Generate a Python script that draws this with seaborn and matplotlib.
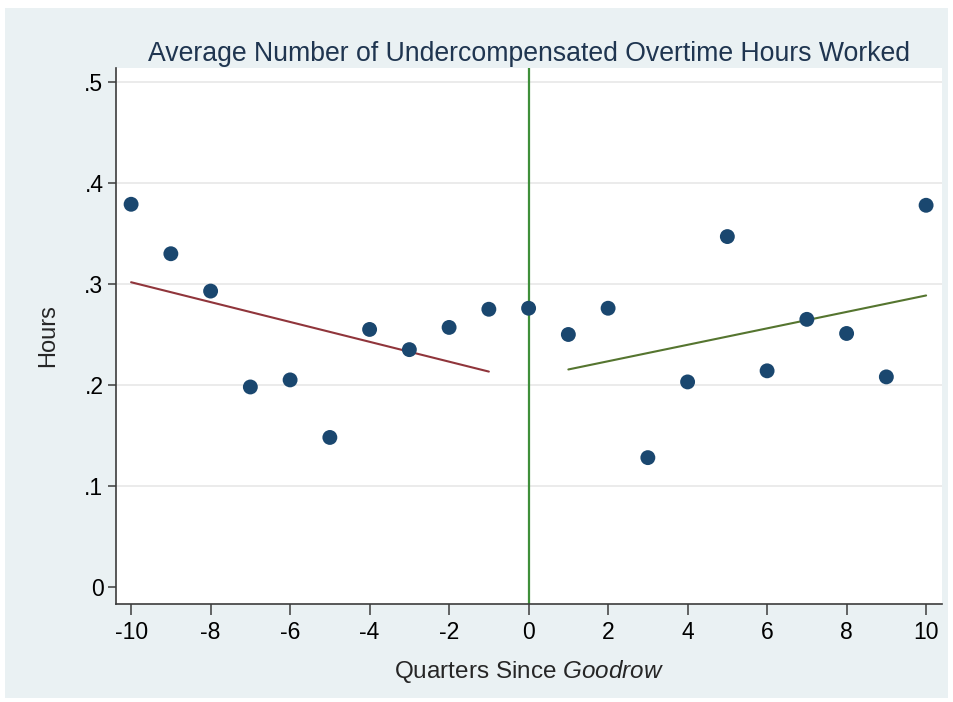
import numpy as np
import pandas as pd
import matplotlib
matplotlib.use("Agg")
import matplotlib.pyplot as plt
from matplotlib.patches import Rectangle
import seaborn as sns

# ── Data ──────────────────────────────────────────────────
quarters = list(range(-10, 11))
hours = [0.379, 0.330, 0.293, 0.198, 0.205, 0.148, 0.255, 0.235, 0.257, 0.275,
         0.276,
         0.250, 0.276, 0.128, 0.203, 0.347, 0.214, 0.265, 0.251, 0.208, 0.378]
y_ticks = [0, 0.1, 0.2, 0.3, 0.4, 0.5]
y_tick_labels = ["0", ".1", ".2", ".3", ".4", ".5"]
x_ticks = list(range(-10, 11, 2))

df = pd.DataFrame({"quarter": quarters, "hours": hours})
pre = df[df.quarter < 0]
post = df[df.quarter > 0]

# ── Style ─────────────────────────────────────────────────
sns.set_style("white")
plt.rcParams["font.family"] = ["Liberation Sans", "DejaVu Sans"]
plt.rcParams["mathtext.fontset"] = "custom"
plt.rcParams["mathtext.rm"] = "Liberation Sans"
plt.rcParams["mathtext.it"] = "Liberation Sans:italic"

navy = "#1A476F"
maroon = "#90353B"
forest = "#55752F"
vline_green = "#3F8F3A"
panel = "#EAF1F3"
axis_col = "#3C3C3C"

fig = plt.figure(figsize=(9.54, 7.02), dpi=100, facecolor="white")
bg = Rectangle((5 / 954, 4 / 702), 943 / 954, 690 / 702,
               transform=fig.transFigure, facecolor=panel,
               edgecolor="none", zorder=-10)
fig.add_artist(bg)
ax = fig.add_axes([116 / 954, 98 / 702, (942 - 116) / 954, (604 - 68) / 702])
ax.set_zorder(1)
ax.set_facecolor("white")

# grid lines
for yv in y_ticks[1:]:
    ax.axhline(yv, color="#E8E8E8", lw=1.2, zorder=0)

ax.axvline(0, color=vline_green, lw=1.6, zorder=1)

sns.regplot(data=pre, x="quarter", y="hours", scatter=False, ci=None,
            line_kws={"color": maroon, "lw": 1.5, "zorder": 2}, ax=ax)
sns.regplot(data=post, x="quarter", y="hours", scatter=False, ci=None,
            line_kws={"color": forest, "lw": 1.5, "zorder": 2}, ax=ax)
sns.scatterplot(data=df, x="quarter", y="hours", color=navy, s=115,
                edgecolor="none", zorder=3, ax=ax)

ax.set_xlim(-10.38, 10.40)
ax.set_ylim(-0.017, 0.514)
ax.set_xticks(x_ticks)
ax.set_xticklabels([str(v) for v in x_ticks])
ax.set_yticks(y_ticks)
ax.set_yticklabels(y_tick_labels)

for side in ["top", "right"]:
    ax.spines[side].set_visible(False)
for side in ["left", "bottom"]:
    ax.spines[side].set_color(axis_col)
    ax.spines[side].set_linewidth(1.2)

ax.tick_params(axis="both", direction="out", colors=axis_col, labelcolor="black",
               labelsize=16.5, width=1.1, bottom=True, left=True)
ax.tick_params(axis="y", length=6, pad=3)
ax.tick_params(axis="x", length=8, pad=4)

ax.set_ylabel("Hours", fontsize=17, labelpad=18)
ax.set_xlabel(r"Quarters Since $\it{Goodrow}$", fontsize=17.5, labelpad=10)
ax.set_title("Average Number of Undercompensated Overtime Hours Worked",
             fontsize=19.2, color="#1F3550", pad=5)

fig.savefig("out.png", dpi=100, facecolor=fig.get_facecolor())
